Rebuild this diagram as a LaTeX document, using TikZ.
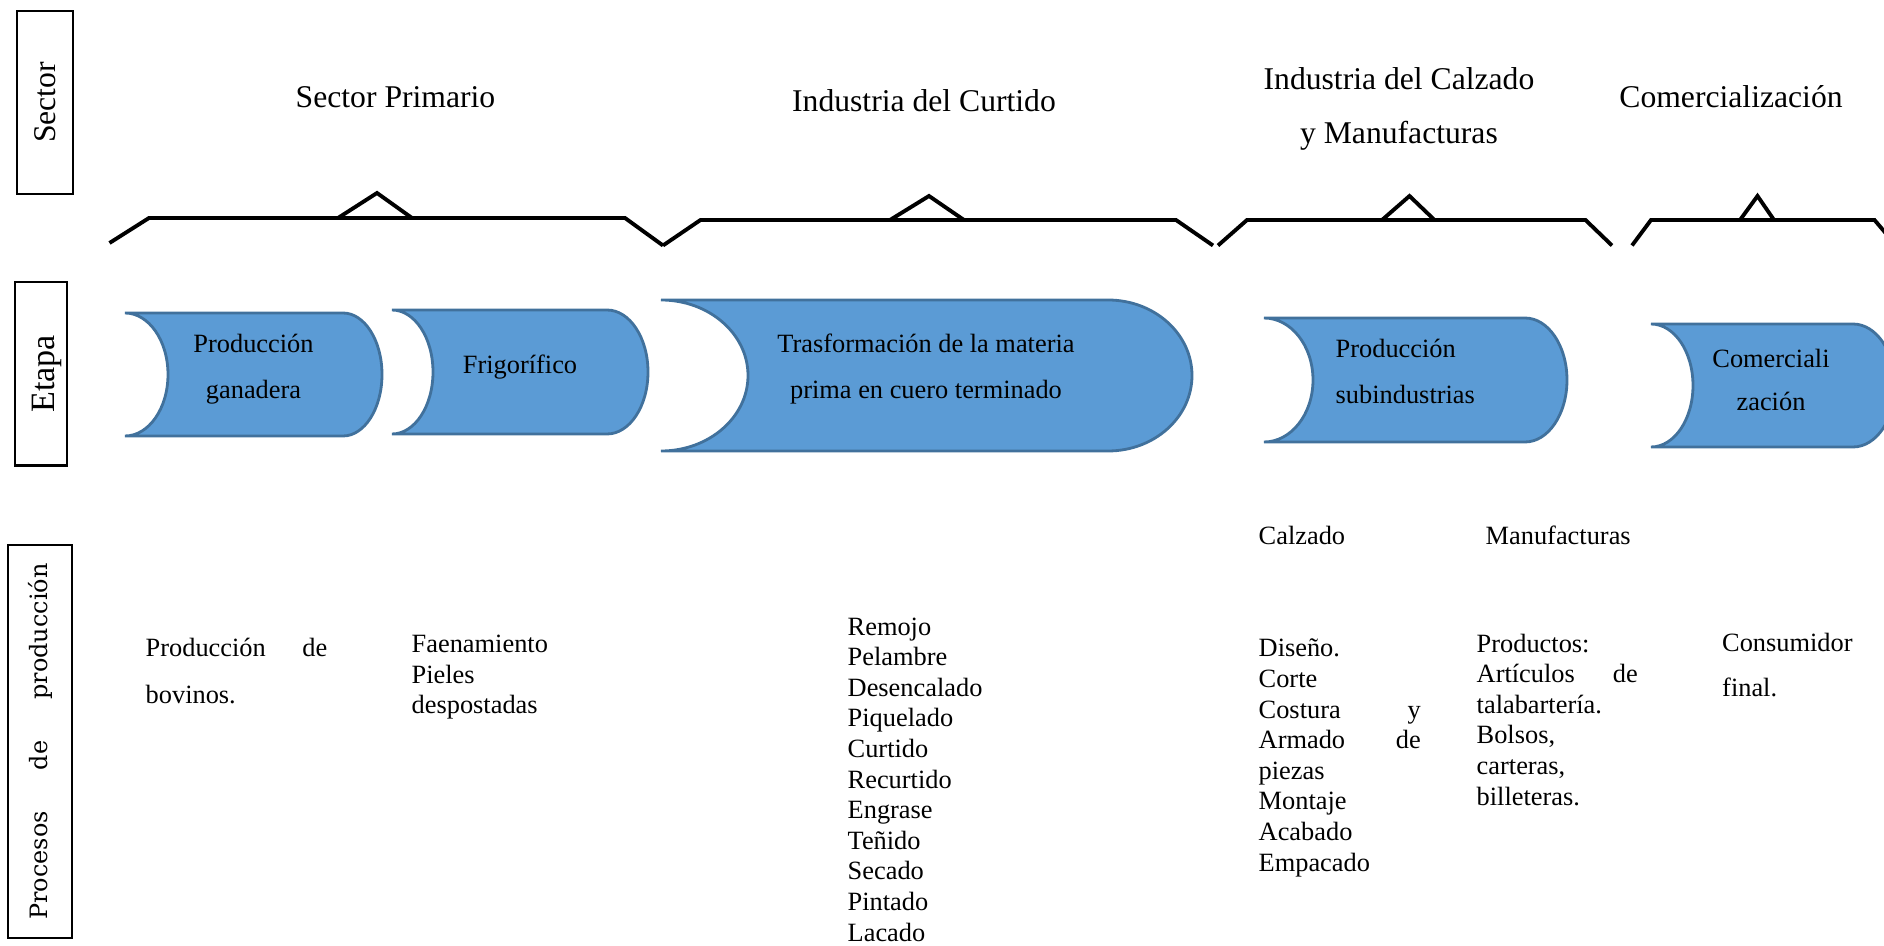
\documentclass[tikz,border=0pt]{standalone}
\usepackage{fontspec}
\setmainfont{Liberation Serif}
\newfontfamily\sidefont{DejaVu Serif}
\definecolor{etapafill}{RGB}{91,155,213}
\definecolor{etapaline}{RGB}{65,113,156}
\tikzset{
    brace/.style={line width=1.1pt, line join=miter},
    etapa/.style={fill=etapafill, draw=etapaline, line width=0.8pt},
    sidebox/.style={draw, line width=0.6pt, rotate=90, inner sep=0pt},
    head/.style={font=\fontsize{9}{15.6}\selectfont, inner sep=0pt, anchor=base, align=center},
    etxt/.style={font=\fontsize{7.5}{13.1}\selectfont, inner sep=0pt, anchor=base, align=center},
    ptxt/.style={font=\fontsize{7.5}{8.7}\selectfont, inner sep=0pt, anchor=base west, align=left},
}
\begin{document}
\begin{tikzpicture}[x=0.01cm, y=-0.01cm]
    \useasboundingbox (0,0) rectangle (1884,946);
    \clip (0,0) rectangle (1884,946);

    % row labels
    \node[sidebox, minimum width=1.83cm, minimum height=0.56cm] (sector) at (45,102.5) {\fontsize{9}{11}\selectfont Sector};
    \node[sidebox, minimum width=1.83cm, minimum height=0.52cm] (etapa) at (41,374) {\fontsize{9.7}{11}\selectfont\raisebox{-1.6pt}[\height][\depth]{Etapa}};
    \node[sidebox, minimum width=3.93cm, minimum height=0.635cm] (procesos) at (40,741.5) {\sidefont\fontsize{6.8}{8}\selectfont\makebox[3.56cm][s]{Procesos de producción}};

    % braces
    \draw[brace] (109.5,243) -- (149,218) -- (625,218) -- (663,245.5);
    \draw[brace] (338,218) -- (377,193) -- (412,218);
    \draw[brace] (663,245.5) -- (700.5,220) -- (1176,220) -- (1213,245.5);
    \draw[brace] (890,220) -- (929,196) -- (964,220);
    \draw[brace] (1218,245.5) -- (1247,220) -- (1585.5,220) -- (1612,245.5);
    \draw[brace] (1382,220) -- (1409.5,196) -- (1434.5,220);
    \draw[brace] (1632,245.5) -- (1651,220) -- (1874.5,220) -- (1900,250);
    \draw[brace] (1740,220) -- (1757.5,196) -- (1774,220);

    \node[head] (primario) at (395.5,108) {Sector Primario};
    \node[head] (curtido) at (924,112) {Industria del Curtido};
    \node[head] (calzado) at (1399,144) {Industria del Calzado\\y Manufacturas};
    \node[head] (comercio) at (1731,108) {Comercialización};

    % etapas
    \foreach \xa/\ya/\xb/\yb/\d/\r in {125/313/382/436/43/39, 392/310/648/434/41/41,
            661/300/1192/451/87/84, 1264/318/1567/442/49/42, 1651/324/1895/447/42/42}
        \draw[etapa] (\xa,\ya) -- ({\xb-\r},\ya)
            arc[start angle=-90, end angle=90, x radius=\r, y radius={(\yb-\ya)/2}]
            -- (\xa,\yb)
            arc[start angle=90, end angle=-90, x radius=\d, y radius={(\yb-\ya)/2}] -- cycle;

    \node[etxt] (ganadera) at (253.5,399) {Producción\\ganadera};
    \node[etxt] (frigo) at (520,374) {Frigorífico};
    \node[etxt] (trasf) at (926,399) {Trasformación de la materia\\prima en cuero terminado};
    \node[etxt, anchor=base west, align=left] (subind) at (1335,404) {Producción\\subindustrias};
    \node[etxt, font=\fontsize{7.5}{12.4}\selectfont] (comerc) at (1771,411) {Comerciali\\zación};

    % procesos
    \node[ptxt, font=\fontsize{7.5}{13.1}\selectfont] (bovinos) at (145,703) {\makebox[1.815cm][s]{Producción de}\\bovinos.};
    \node[ptxt] (faena) at (411,714) {Faenamiento\\Pieles\\despostadas};
    \node[ptxt] (curtproc) at (847,941) {Remojo\\Pelambre\\Desencalado\\Piquelado\\Curtido\\Recurtido\\Engrase\\Teñido\\Secado\\Pintado\\Lacado};
    \node[ptxt] (calzlbl) at (1258,545) {Calzado};
    \node[ptxt] (manulbl) at (1485,545) {Manufacturas};
    \node[ptxt] (calzproc) at (1258,871) {Diseño.\\Corte\\\makebox[1.62cm][s]{Costura y}\\\makebox[1.62cm][s]{Armado de}\\piezas\\Montaje\\Acabado\\Empacado};
    \node[ptxt] (manuproc) at (1476,805) {Productos:\\\makebox[1.61cm][s]{Artículos de}\\talabartería.\\Bolsos,\\carteras,\\billeteras.};
    \node[ptxt, font=\fontsize{7.5}{12.8}\selectfont] (consumidor) at (1721.5,697) {Consumidor\\final.};
\end{tikzpicture}
\end{document}
